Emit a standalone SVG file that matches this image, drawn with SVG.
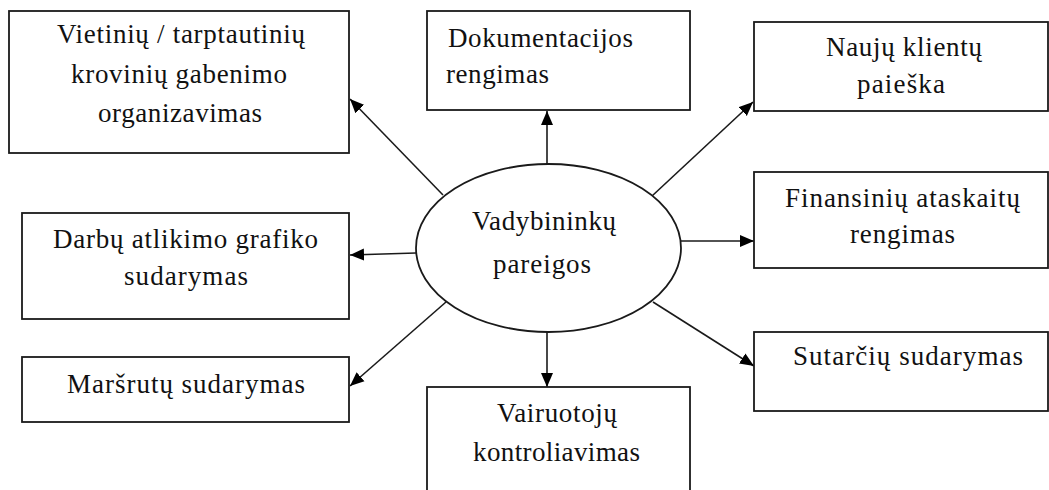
<svg xmlns="http://www.w3.org/2000/svg" width="1049" height="490" viewBox="0 0 1049 490">
<style>
.box{fill:#fff;stroke:#1a1a1a;stroke-width:1.8}
.t{font-family:"Liberation Serif","Times New Roman",serif;font-size:27px;fill:#111}
.c{stroke:#1a1a1a;stroke-width:1.6;fill:none;marker-end:url(#ah)}
</style>
<defs>
<marker id="ah" markerUnits="userSpaceOnUse" markerWidth="15" markerHeight="13" refX="14" refY="6.5" orient="auto">
<path d="M0,0.5 L14,6.5 L0,12.5 z" fill="#000"/>
</marker>
</defs>
<rect width="1049" height="490" fill="#fff"/>
<g id="connectors">
<line class="c" x1="443" y1="195" x2="350" y2="99"/>
<line class="c" x1="547" y1="164" x2="547" y2="111"/>
<line class="c" x1="652" y1="196" x2="753" y2="102"/>
<line class="c" x1="681" y1="241" x2="754" y2="241"/>
<line class="c" x1="416" y1="253" x2="350" y2="255"/>
<line class="c" x1="446" y1="302" x2="350" y2="386"/>
<line class="c" x1="547" y1="332" x2="547" y2="387"/>
<line class="c" x1="653" y1="302" x2="754" y2="366"/>
</g>
<g id="center">
<ellipse class="box" cx="548.5" cy="248" rx="132.5" ry="84"/>
<text class="t" x="472" y="230" textLength="144" lengthAdjust="spacing">Vadybininkų</text>
<text class="t" x="493" y="273" textLength="98" lengthAdjust="spacing">pareigos</text>
</g>
<g id="n-vietiniu">
<rect class="box" x="9" y="11" width="340" height="142"/>
<text class="t" x="57" y="43" textLength="248" lengthAdjust="spacing">Vietinių / tarptautinių</text>
<text class="t" x="71" y="83" textLength="216" lengthAdjust="spacing">krovinių gabenimo</text>
<text class="t" x="98" y="122" textLength="164" lengthAdjust="spacing">organizavimas</text>
</g>
<g id="n-dokumentacijos">
<rect class="box" x="427" y="11" width="263" height="99"/>
<text class="t" x="448" y="47" textLength="185" lengthAdjust="spacing">Dokumentacijos</text>
<text class="t" x="446" y="83" textLength="103" lengthAdjust="spacing">rengimas</text>
</g>
<g id="n-nauju">
<rect class="box" x="754" y="22" width="294" height="89"/>
<text class="t" x="826" y="56" textLength="156" lengthAdjust="spacing">Naujų klientų</text>
<text class="t" x="857" y="93" textLength="88" lengthAdjust="spacing">paieška</text>
</g>
<g id="n-finansiniu">
<rect class="box" x="754" y="172" width="294" height="96"/>
<text class="t" x="785" y="207" textLength="235" lengthAdjust="spacing">Finansinių ataskaitų</text>
<text class="t" x="850" y="243" textLength="105" lengthAdjust="spacing">rengimas</text>
</g>
<g id="n-sutarciu">
<rect class="box" x="754" y="332" width="294" height="79"/>
<text class="t" x="793" y="365" textLength="230" lengthAdjust="spacing">Sutarčių sudarymas</text>
</g>
<g id="n-darbu">
<rect class="box" x="22" y="213" width="327" height="106"/>
<text class="t" x="53" y="248" textLength="265" lengthAdjust="spacing">Darbų atlikimo grafiko</text>
<text class="t" x="124" y="285" textLength="124" lengthAdjust="spacing">sudarymas</text>
</g>
<g id="n-marsrutu">
<rect class="box" x="22" y="357" width="327" height="65"/>
<text class="t" x="67" y="393" textLength="238" lengthAdjust="spacing">Maršrutų sudarymas</text>
</g>
<g id="n-vairuotoju">
<rect class="box" x="427" y="387" width="263" height="120"/>
<text class="t" x="497" y="422" textLength="120" lengthAdjust="spacing">Vairuotojų</text>
<text class="t" x="473" y="461" textLength="167" lengthAdjust="spacing">kontroliavimas</text>
</g>
</svg>
